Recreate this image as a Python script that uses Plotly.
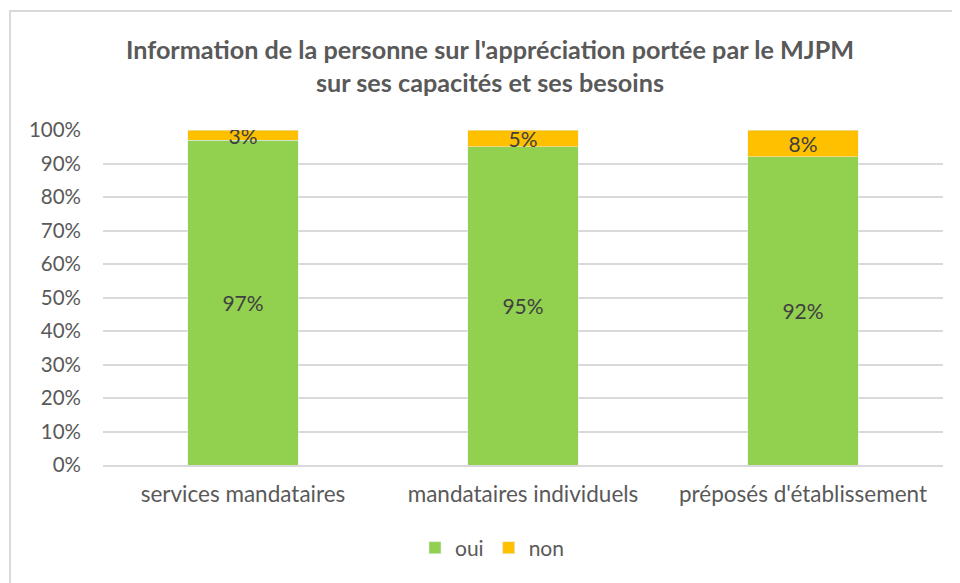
import plotly.graph_objects as go

categories = ["services mandataires", "mandataires individuels", "préposés d'établissement"]
oui = [97, 95, 92]
non = [3, 5, 8]
y_ticks = list(range(0, 101, 10))

FONT = "Lato"
GRAY = "#595959"

# page is offset by the 8px body margin
W, H = 952, 575
L, R, T, B = 95, 17, 122, 118
pw, ph = W - L - R, H - T - B

fig = go.Figure()
fig.add_trace(go.Bar(
    name="oui", x=categories, y=oui, marker_color="#92D050",
    text=[f"{v}%" for v in oui], textposition="inside", insidetextanchor="middle",
    textfont=dict(family=FONT, size=21, color="#404040"), constraintext="none",
))
fig.add_trace(go.Bar(
    name="non", x=categories, y=non, marker_color="#FFC000",
    text=[f"{v}%" for v in non], textposition="inside", insidetextanchor="middle",
    textfont=dict(family=FONT, size=21, color="#404040"), constraintext="none",
))

fig.update_layout(
    barmode="stack", bargap=0.604,
    width=W, height=H,
    margin=dict(l=L, r=R, t=T, b=B, autoexpand=False),
    paper_bgcolor="white", plot_bgcolor="white",
    uniformtext=dict(minsize=21, mode="show"),
    font=dict(family=FONT, color=GRAY),
    title=dict(
        text="Information de la personne sur l'appréciation portée par le MJPM<br>sur ses capacités et ses besoins",
        x=(490 - 8) / W, xanchor="center", y=1 - 51 / H, yanchor="top",
        font=dict(family=FONT, size=25.2, color=GRAY, weight="bold"),
    ),
    legend=dict(
        orientation="h", x=(492 - 8 - L) / pw, xanchor="center", y=(457 - 540) / ph, yanchor="middle",
        font=dict(family=FONT, size=21, color=GRAY), traceorder="normal",
        itemwidth=30,
    ),
    xaxis=dict(
        showgrid=False, showline=True, linecolor="#d9d9d9", linewidth=1.5,
        tickfont=dict(family=FONT, size=22.5, color=GRAY), ticklabelstandoff=8,
    ),
    yaxis=dict(
        range=[0, 100], tickvals=y_ticks, ticktext=[f"{v}%" for v in y_ticks],
        showgrid=True, gridcolor="#d9d9d9", gridwidth=1.5, zeroline=False,
        tickfont=dict(family=FONT, size=20.5, color=GRAY), ticklabelstandoff=21,
    ),
    shapes=[dict(
        type="rect", xref="paper", yref="paper",
        x0=(2 - L) / pw, x1=(975 - L) / pw,
        y0=-0.6, y1=1 + (T - 3) / ph,
        line=dict(color="#d9d9d9", width=2), fillcolor="rgba(0,0,0,0)", layer="below",
    )],
)

fig.write_html("out.html")
